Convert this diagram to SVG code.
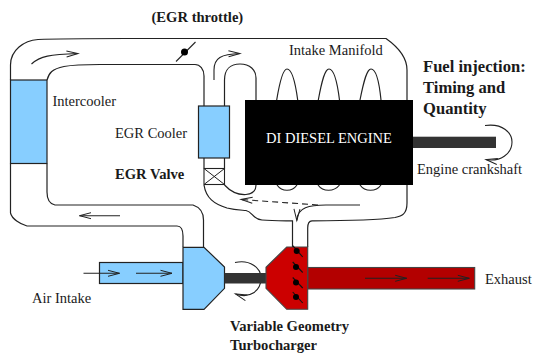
<svg xmlns="http://www.w3.org/2000/svg" width="533" height="353" viewBox="0 0 533 353">
<style>
text{font-family:"Liberation Serif","Times New Roman",serif;font-size:14.5px;fill:#1a1a1a}
.b{font-weight:bold;font-size:14.6px}
.f{font-size:16.6px}
.pipe{fill:none;stroke:#222;stroke-width:1.2}
.flow{fill:none;stroke:#222;stroke-width:1.1;marker-end:url(#open)}
.blue{fill:#87ceff;stroke:#222;stroke-width:1.2}
.shaft{fill:#333}
.vane{stroke:#111;stroke-width:1.1}
</style>
<defs>
<marker id="open" markerUnits="userSpaceOnUse" markerWidth="16" markerHeight="10" refX="13" refY="5" orient="auto">
<path d="M1.500 2 L13 5 L1.500 8" fill="none" stroke="#222" stroke-width="1"/>
</marker>
</defs>
<rect width="533" height="353" fill="#fff"/>
<g id="connectors">
<path class="pipe" d="M10.500 80 V65 C10.500 50 24 40.500 38 39.500 C60 38.500 90 38.500 126 38.500 H386 C398 47 407 58 407 70 V100"/>
<path class="pipe" d="M47 80 C49 73 52 69 64 66.500 C72 65 85 64.500 100 64.500 H195 C200 64.500 204 69 204 76 V106"/>
<path class="pipe" d="M224.500 106 V80 C224.500 69 231 64 240 64 C250 64 256 70 256 78 V100"/>
<path class="pipe" d="M204 158 V168.500 M224.500 158 V168.500"/>
<path class="pipe" d="M276.700 100 C280 80 283 69 287 69 C292 69 295 80 297.700 100"/>
<path class="pipe" d="M318.300 100 C322 80 325 69 329 69 C334 69 337 80 339.500 100"/>
<path class="pipe" d="M360 100 C364 80 367 69 371 69 C376 69 379 80 381 100"/>
<path class="pipe" d="M277 185 C282 192 292 192 297 185 M318 185 C323 192 334 192 339.500 185 M360 185 C365 192 376 192 381 185"/>
<path class="pipe" d="M224.500 185 C231 192 238 195 246 194.500 C253 194 256 190 256 185"/>
<path class="pipe" d="M204 185 C206 198 214 204 227 208 C235 210 240 210 246 210.500 C253 212 252 219 262 220 C272 221 282 220.800 292.500 220.800 V247"/>
<path class="pipe" d="M407 185 V203 C407 214 402 216 395 217.500 C375 220.500 350 220.800 312 220.800 C308.500 221 307.700 224 307.700 228 V247"/>
<path class="pipe" d="M10.500 163.500 V213 C12 219 20 224 27 226 H177 C181 226 183 230 183 236 V247"/>
<path class="pipe" d="M47 163.500 V192 C47 200 50 204 55 205 H193 C199 207 203.500 212 203.500 220 V247"/>
<line x1="176" y1="61.500" x2="195.500" y2="42" stroke="#222" stroke-width="1.1"/>
<circle cx="184.500" cy="52" r="3.500" fill="#000"/>
<path class="flow" d="M31.500 64 C40 56 50 54.500 78 53.500"/>
<path class="flow" d="M214 80 V70 C214 58 221 54 240 53.500"/>
<path class="flow" d="M120 215.700 H79.500"/>
<path class="flow" d="M318 205 L241 199.500" stroke-dasharray="6 4"/>
<path class="flow" d="M360 205 H326 C310 205 297 207 296.800 220.500"/>
<path class="flow" d="M485 125.500 C503 123 512 133 512 142 C512 154 500 162 486 159.500"/>
<path class="flow" d="M235 262.500 C250 259 261 268 261 278 C261 291 250 299 235.500 294"/>
</g>
<g id="intercooler"><rect class="blue" x="10.500" y="80" width="36.500" height="83.500"/><text x="52.500" y="106">Intercooler</text></g>
<g id="egr-cooler"><rect class="blue" x="198.500" y="106" width="31" height="52"/><text x="115" y="138">EGR Cooler</text></g>
<g id="egr-valve"><rect x="204" y="168.500" width="20.500" height="16" fill="#fff" stroke="#222" stroke-width="1.100"/><path d="M204 168.500 L224.500 184.500 M224.500 168.500 L204 184.500" stroke="#222" stroke-width="1"/><text class="b" x="115" y="179">EGR Valve</text></g>
<g id="engine"><rect x="245" y="100" width="168" height="85" fill="#000"/><text x="266" y="143" style="fill:#fff">DI DIESEL ENGINE</text></g>
<g id="crankshaft"><rect class="shaft" x="413" y="136.700" width="83" height="11.300"/><text x="417" y="174">Engine crankshaft</text></g>
<g id="air-intake"><rect class="blue" x="99.500" y="262.500" width="83.500" height="21"/><path class="flow" d="M83.500 273.300 H119.500"/><path class="flow" d="M136 273.300 H172"/><text x="32" y="303">Air Intake</text></g>
<g id="compressor"><polygon class="blue" points="183,247.300 204,247.300 224.500,267 224.500,288.300 204,309.300 183,309.300"/></g>
<g id="turbo-shaft"><rect class="shaft" x="224.500" y="273" width="42" height="10.500"/></g>
<g id="exhaust"><rect x="307.700" y="267.500" width="167" height="21.500" fill="#b30000" stroke="#444" stroke-width="1.100"/><path class="flow" d="M365 278.300 H406.700"/><path class="flow" d="M427.700 278.300 H469.300"/><text x="485" y="284">Exhaust</text></g>
<g id="turbine"><polygon points="286.700,247 307.700,247 307.700,309.300 286.700,309.300 266,288.300 266,267.300" fill="#cc0000" stroke="#444" stroke-width="1.100"/>
<g class="vane"><line x1="292.700" y1="245.700" x2="302.700" y2="257"/><line x1="292.700" y1="262" x2="302.700" y2="272.500"/><line x1="292.700" y1="277.500" x2="302.700" y2="288"/><line x1="292.700" y1="292" x2="302.700" y2="303"/></g>
<circle cx="296.700" cy="251" r="3"/><circle cx="296" cy="267" r="3"/><circle cx="296" cy="282.500" r="3"/><circle cx="296" cy="297" r="3"/></g>
<g id="labels">
<text class="b" x="151.500" y="22">(EGR throttle)</text>
<text x="289" y="55">Intake Manifold</text>
<text class="b f" x="423" y="72">Fuel injection:</text>
<text class="b f" x="423" y="93">Timing and</text>
<text class="b f" x="423" y="114">Quantity</text>
<text class="b" x="230" y="331">Variable Geometry</text>
<text class="b" x="230" y="349.500">Turbocharger</text>
</g>
</svg>
